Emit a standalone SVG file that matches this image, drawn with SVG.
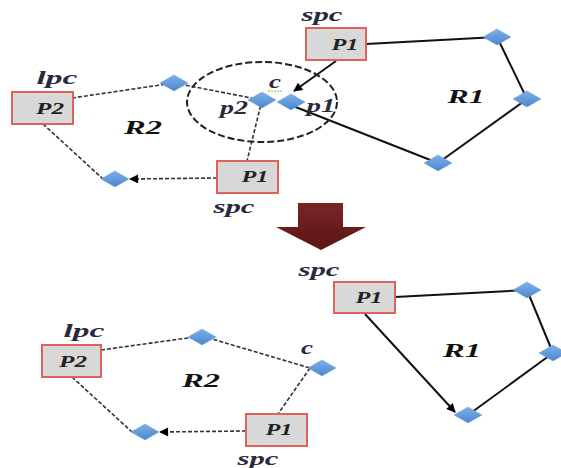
<svg xmlns="http://www.w3.org/2000/svg" width="561" height="468" viewBox="0 0 561 468">
<defs>
<marker id="ah" viewBox="0 0 10 10" refX="9" refY="5" markerWidth="10" markerHeight="9" orient="auto-start-reverse" markerUnits="userSpaceOnUse">
<path d="M0,0 L10,5 L0,10 z" fill="#000"/>
</marker>
<linearGradient id="dg" x1="0" y1="0" x2="0" y2="1">
<stop offset="0" stop-color="#7fb0e8"/><stop offset="1" stop-color="#4a86cf"/>
</linearGradient>
<linearGradient id="bg" x1="0" y1="0" x2="0" y2="1">
<stop offset="0" stop-color="#7a2525"/><stop offset="1" stop-color="#5a1414"/>
</linearGradient>
</defs>
<style>
.box{fill:#d8d8d8;stroke:#e0605a;stroke-width:2}
.dia{fill:url(#dg);stroke:#6fa0dc;stroke-width:0.5}
.solid{fill:none;stroke:#111;stroke-width:2}
.dash{fill:none;stroke:#333;stroke-width:1.6;stroke-dasharray:4 2}
.pl{font-family:"Liberation Serif",serif;font-style:italic;font-weight:bold;font-size:16px;fill:#222;text-anchor:middle}
.rl{font-family:"Liberation Serif",serif;font-style:italic;font-weight:bold;font-size:19px;fill:#111;text-anchor:middle}
.lb{font-family:"Liberation Serif",serif;font-style:italic;font-weight:bold;font-size:18px;fill:#2a2a3a;text-anchor:middle}
</style>
<rect width="561" height="468" fill="#fff"/>

<g id="connectors">
<!-- top R1 -->
<line class="solid" x1="366" y1="44" x2="497" y2="37"/>
<line class="solid" x1="497" y1="37" x2="527" y2="99"/>
<line class="solid" x1="527" y1="99" x2="438" y2="163"/>
<line class="solid" x1="438" y1="163" x2="293" y2="106"/>
<line class="solid" x1="336" y1="61" x2="294" y2="91" marker-end="url(#ah)"/>
<!-- top R2 -->
<line class="dash" x1="72" y1="98" x2="174" y2="83"/>
<line class="dash" x1="174" y1="83" x2="262" y2="100"/>
<line class="dash" x1="262" y1="100" x2="247" y2="161"/>
<line class="dash" x1="217" y1="178" x2="130" y2="179" marker-end="url(#ah)"/>
<line class="dash" x1="43" y1="124" x2="103" y2="179"/>
<ellipse cx="262" cy="102" rx="75" ry="40" fill="none" stroke="#222" stroke-width="2" stroke-dasharray="7 3"/>
<!-- bottom R1 -->
<line class="solid" x1="395" y1="297" x2="527" y2="290"/>
<line class="solid" x1="527" y1="290" x2="553" y2="353"/>
<line class="solid" x1="553" y1="353" x2="468" y2="415"/>
<line class="solid" x1="365" y1="314" x2="455" y2="412" marker-end="url(#ah)"/>
<!-- bottom R2 -->
<line class="dash" x1="101" y1="350" x2="202" y2="336"/>
<line class="dash" x1="202" y1="336" x2="310" y2="368"/>
<line class="dash" x1="310" y1="368" x2="278" y2="414"/>
<line class="dash" x1="246" y1="431" x2="160" y2="432" marker-end="url(#ah)"/>
<line class="dash" x1="72" y1="377" x2="132" y2="432"/>
</g>

<g id="arrow-big">
<path d="M298,203 H343 V227 H366 L321,250 L276,227 H298 Z" fill="url(#bg)"/>
</g>

<!-- top section nodes -->
<g id="top-P1-R1">
<rect class="box" x="306" y="28" width="60" height="32"/>
<text class="pl" x="345" y="50" textLength="27" lengthAdjust="spacingAndGlyphs">P1</text>
<text class="lb" x="322" y="21" textLength="41" lengthAdjust="spacingAndGlyphs">spc</text>
</g>
<g id="top-d1"><path class="dia" d="M483,37 L497,29 L511,37 L497,45 Z"/></g>
<g id="top-d2"><path class="dia" d="M513,99 L527,91 L541,99 L527,107 Z"/></g>
<g id="top-d3"><path class="dia" d="M424,163 L438,155 L452,163 L438,171 Z"/></g>
<g id="top-R1"><text class="rl" x="466" y="103" textLength="37" lengthAdjust="spacingAndGlyphs">R1</text></g>

<g id="top-P2">
<rect class="box" x="12" y="92" width="61" height="32"/>
<text class="pl" x="50" y="114" textLength="28" lengthAdjust="spacingAndGlyphs">P2</text>
<text class="lb" x="57" y="84" textLength="41" lengthAdjust="spacingAndGlyphs">lpc</text>
</g>
<g id="top-d4"><path class="dia" d="M160,83 L174,75 L188,83 L174,91 Z"/></g>
<g id="top-p2"><path class="dia" d="M248,100 L262,92 L276,100 L262,108 Z"/><text class="lb" x="234" y="114" textLength="28" lengthAdjust="spacingAndGlyphs">p2</text></g>
<g id="top-p1"><path class="dia" d="M277,102 L291,94 L305,102 L291,110 Z"/><text class="lb" x="321" y="112" font-size="16" textLength="29" lengthAdjust="spacingAndGlyphs">p1</text></g>
<g id="top-c"><text class="lb" x="275" y="88" textLength="12" lengthAdjust="spacingAndGlyphs">c</text><line x1="268" y1="91" x2="283" y2="91" stroke="#9ab040" stroke-width="1" stroke-dasharray="2 1"/></g>
<g id="top-d5"><path class="dia" d="M101,179 L115,171 L129,179 L115,187 Z"/></g>
<g id="top-P1-R2">
<rect class="box" x="217" y="161" width="61" height="32"/>
<text class="pl" x="255" y="182" textLength="27" lengthAdjust="spacingAndGlyphs">P1</text>
<text class="lb" x="234" y="213" textLength="41" lengthAdjust="spacingAndGlyphs">spc</text>
</g>
<g id="top-R2"><text class="rl" x="143" y="134" textLength="38" lengthAdjust="spacingAndGlyphs">R2</text></g>

<!-- bottom section nodes -->
<g id="bot-P1-R1">
<rect class="box" x="334" y="282" width="61" height="31"/>
<text class="pl" x="369" y="303" textLength="27" lengthAdjust="spacingAndGlyphs">P1</text>
<text class="lb" x="319" y="276" textLength="41" lengthAdjust="spacingAndGlyphs">spc</text>
</g>
<g id="bot-d1"><path class="dia" d="M513,290 L527,282 L541,290 L527,298 Z"/></g>
<g id="bot-d2"><path class="dia" d="M539,353 L553,345 L567,353 L553,361 Z"/></g>
<g id="bot-d3"><path class="dia" d="M454,415 L468,407 L482,415 L468,423 Z"/></g>
<g id="bot-R1"><text class="rl" x="462" y="357" textLength="38" lengthAdjust="spacingAndGlyphs">R1</text></g>

<g id="bot-P2">
<rect class="box" x="42" y="345" width="59" height="32"/>
<text class="pl" x="73" y="367" textLength="28" lengthAdjust="spacingAndGlyphs">P2</text>
<text class="lb" x="84" y="337" textLength="41" lengthAdjust="spacingAndGlyphs">lpc</text>
</g>
<g id="bot-d4"><path class="dia" d="M188,337 L202,329 L216,337 L202,345 Z"/></g>
<g id="bot-c"><path class="dia" d="M308,368 L322,360 L336,368 L322,376 Z"/><text class="lb" x="307" y="354" textLength="12" lengthAdjust="spacingAndGlyphs">c</text></g>
<g id="bot-d5"><path class="dia" d="M131,432 L145,424 L159,432 L145,440 Z"/></g>
<g id="bot-P1-R2">
<rect class="box" x="246" y="414" width="61" height="32"/>
<text class="pl" x="279" y="435" textLength="27" lengthAdjust="spacingAndGlyphs">P1</text>
<text class="lb" x="258" y="465" textLength="41" lengthAdjust="spacingAndGlyphs">spc</text>
</g>
<g id="bot-R2"><text class="rl" x="201" y="387" textLength="38" lengthAdjust="spacingAndGlyphs">R2</text></g>
</svg>
